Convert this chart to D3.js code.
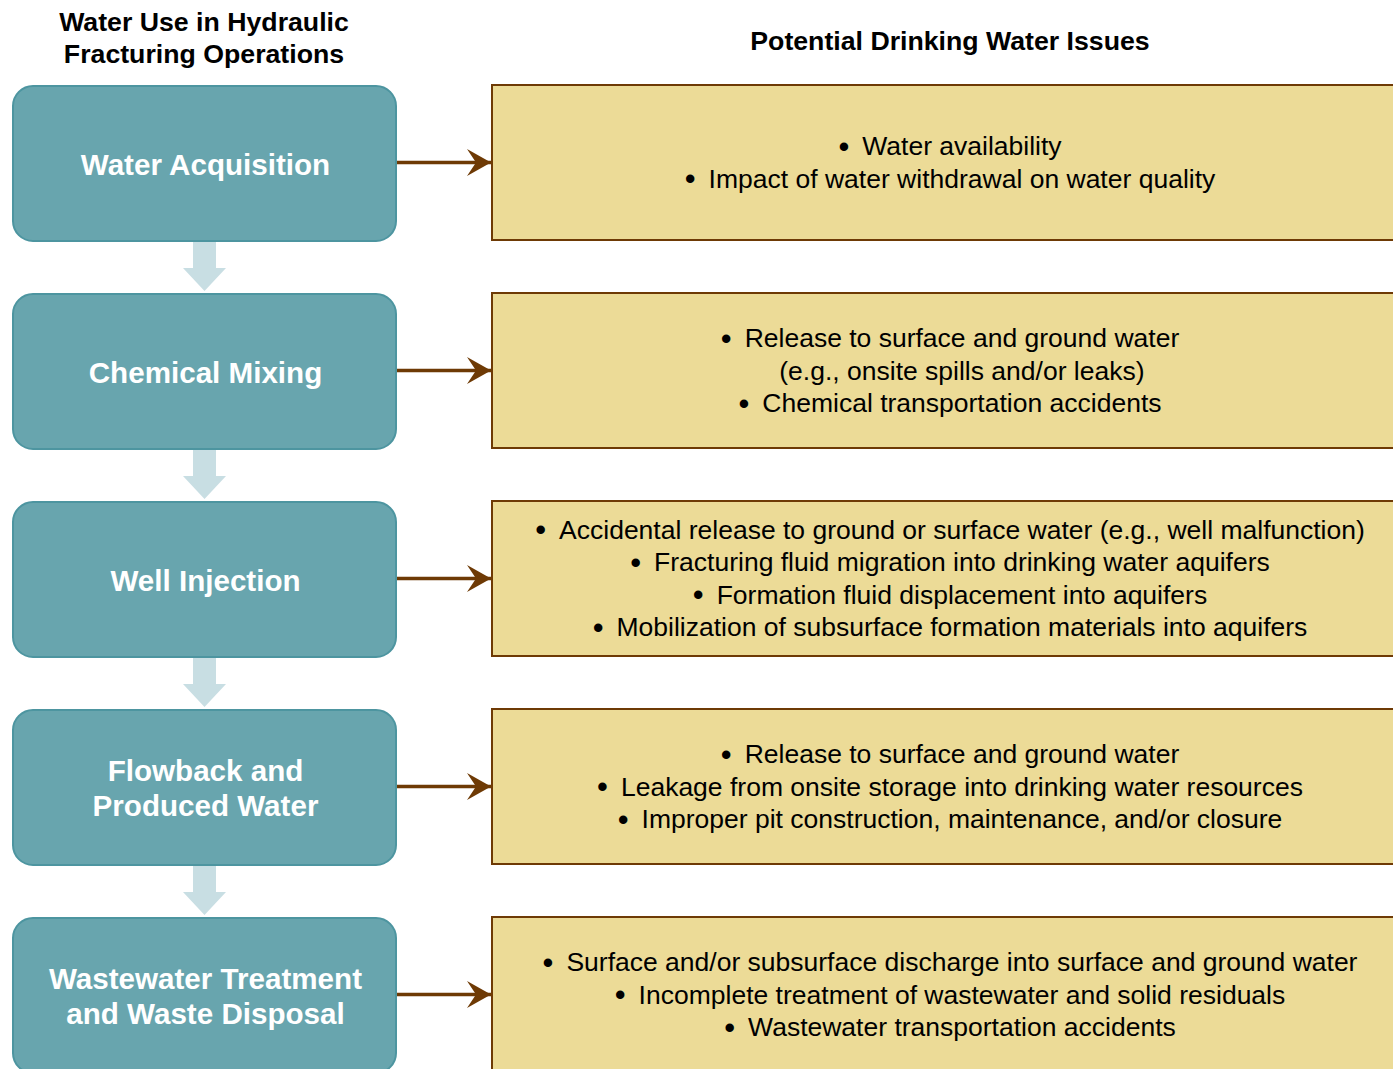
<!DOCTYPE html>
<html>
<head>
<meta charset="utf-8">
<script src="https://cdn.jsdelivr.net/npm/d3@7"></script>
<style>
  body { margin: 0; background: #fff; }
  svg { display: block; font-family: "Liberation Sans", Arial, sans-serif; }
</style>
</head>
<body>
<div id="chart"></div>
<script>
// stages on the left, issues on the right (one list of lines per stage)
const stages = [
  ["Water Acquisition"],
  ["Chemical Mixing"],
  ["Well Injection"],
  ["Flowback and", "Produced Water"],
  ["Wastewater Treatment", "and Waste Disposal"]
];
// lines starting with "-" are continuation lines (no bullet)
const issues = [
  ["Water availability", "Impact of water withdrawal on water quality"],
  ["Release to surface and ground water", "-(e.g., onsite spills and/or leaks)", "Chemical transportation accidents"],
  ["Accidental release to ground or surface water (e.g., well malfunction)",
   "Fracturing fluid migration into drinking water aquifers",
   "Formation fluid displacement into aquifers",
   "Mobilization of subsurface formation materials into aquifers"],
  ["Release to surface and ground water",
   "Leakage from onsite storage into drinking water resources",
   "Improper pit construction, maintenance, and/or closure"],
  ["Surface and/or subsurface discharge into surface and ground water",
   "Incomplete treatment of wastewater and solid residuals",
   "Wastewater transportation accidents"]
];
const leftTitle = ["Water Use in Hydraulic", "Fracturing Operations"];
const rightTitle = "Potential Drinking Water Issues";

const W = 1393, H = 1069;
const svg = d3.select('#chart').append('svg')
  .attr('width', W).attr('height', H);

// row layout
const y = d3.scaleLinear().domain([0, 1]).range([86, 294]); // row step 208
const boxH = 155;
const leftX = 13, leftW = 383;
const rightX = 492, rightW = 960;
const textCx = 950;

const defs = svg.append('defs');
defs.append('marker')
  .attr('id', 'arr')
  .attr('viewBox', '0 0 24 27')
  .attr('refX', 24).attr('refY', 13.5)
  .attr('markerWidth', 24).attr('markerHeight', 27)
  .attr('markerUnits', 'userSpaceOnUse')
  .attr('orient', 'auto')
  .append('path')
  .attr('d', 'M0,0 L24,13.5 L0,27 L9,13.5 Z')
  .attr('fill', '#6e3a05');

// titles
svg.append('text')
  .attr('x', 204).attr('y', 31)
  .attr('text-anchor', 'middle')
  .attr('font-size', 26.7).attr('font-weight', 'bold')
  .selectAll('tspan').data(leftTitle).enter().append('tspan')
  .attr('x', 204).attr('dy', (d, i) => i ? 32 : 0)
  .text(d => d);

svg.append('text')
  .attr('x', textCx).attr('y', 50)
  .attr('text-anchor', 'middle')
  .attr('font-size', 26.7).attr('font-weight', 'bold')
  .text(rightTitle);

const rows = svg.selectAll('.row')
  .data(stages)
  .enter().append('g')
  .attr('class', 'row')
  .attr('transform', (d, i) => `translate(0, ${y(i)})`);

// down arrows between stage boxes
rows.filter((d, i) => i < stages.length - 1)
  .append('path')
  .attr('d', `M193,${boxH} L216,${boxH} L216,${boxH + 27} L226,${boxH + 27} L204.5,${boxH + 50} L183,${boxH + 27} L193,${boxH + 27} Z`)
  .attr('fill', '#c8dee3');

// stage boxes
rows.append('rect')
  .attr('x', leftX).attr('y', 0)
  .attr('width', leftW).attr('height', boxH)
  .attr('rx', 20).attr('ry', 20)
  .attr('fill', '#68a5ae')
  .attr('stroke', '#4d95a0')
  .attr('stroke-width', 2);

rows.append('text')
  .attr('text-anchor', 'middle')
  .attr('font-size', 29.6).attr('font-weight', 'bold')
  .attr('fill', '#fff')
  .each(function(d) {
    const t = d3.select(this);
    const lh = 35;
    const y0 = boxH / 2 - (d.length - 1) * lh / 2 + 11;
    d.forEach((line, i) => {
      t.append('tspan').attr('x', leftX + leftW / 2 + 1).attr('y', y0 + i * lh).text(line);
    });
  });

// connecting arrows
rows.append('line')
  .attr('x1', 397).attr('x2', rightX - 1)
  .attr('y1', boxH / 2 - 1).attr('y2', boxH / 2 - 1)
  .attr('stroke', '#6e3a05')
  .attr('stroke-width', 3.5)
  .attr('marker-end', 'url(#arr)');

// issue boxes
rows.append('rect')
  .attr('x', rightX).attr('y', -1)
  .attr('width', rightW).attr('height', boxH)
  .attr('fill', '#ecdb97')
  .attr('stroke', '#6e3a05')
  .attr('stroke-width', 2);

rows.append('text')
  .attr('text-anchor', 'middle')
  .attr('font-size', 26.5)
  .attr('fill', '#000')
  .each(function(d, i) {
    const lines = issues[i];
    const t = d3.select(this);
    const lh = 32.5;
    const y0 = boxH / 2 - (lines.length - 1) * lh / 2 + 8;
    lines.forEach((line, j) => {
      const cont = line.startsWith('-');
      const ln = t.append('tspan').attr('x', textCx).attr('y', y0 + j * lh);
      ln.append('tspan')
        .attr('fill', cont ? 'none' : '#000')
        .attr('font-size', 31)
        .attr('dy', 1.5)
        .text('\u2022');
      ln.append('tspan').attr('dx', 13).attr('dy', -1.5).text(cont ? line.slice(1) : line);
    });
  });
</script>
</body>
</html>
